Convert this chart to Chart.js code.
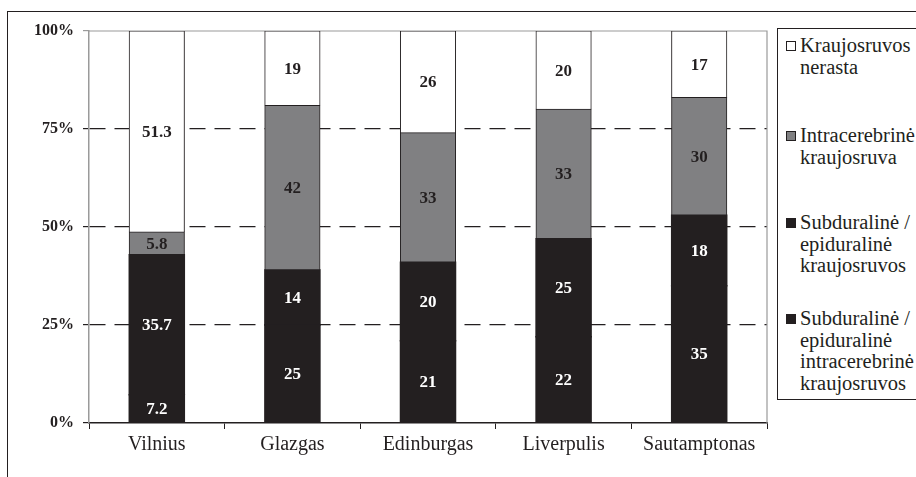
<!DOCTYPE html>
<html>
<head>
<meta charset="utf-8">
<script src="https://cdn.jsdelivr.net/npm/chart.js@4.4.0/dist/chart.umd.min.js"></script>
<style>
  body { margin: 0; background: #fff; overflow: hidden; }
  #wrap { position: relative; width: 916px; height: 477px; overflow: hidden; }
  #frame { position: absolute; left: 7px; top: 11px; width: 920px; height: 480px;
           border-top: 1.5px solid #231f20; border-left: 1.5px solid #231f20; }
  canvas { position: absolute; left: 0; top: 0; }
  #legend { position: absolute; left: 777px; top: 28px; width: 200px; height: 370px;
            border: 1px solid #231f20; background: #fff;
            font: 20.5px "Liberation Serif", "DejaVu Serif", serif; color: #231f20; }
  .item { position: absolute; left: 8px; padding-left: 14px; line-height: 21.5px; white-space: pre-line; }
  .swatch { position: absolute; left: 0; top: 6px; width: 10px; height: 10px;
            box-sizing: border-box; border: 1px solid #231f20; }
</style>
</head>
<body>
<div id="wrap">
  <div id="frame"></div>
  <canvas id="injuryChart" width="916" height="477"></canvas>
  <div id="legend"></div>
</div>
<script>
// cities and shares of each finding, %
var categories = ['Vilnius', 'Glazgas', 'Edinburgas', 'Liverpulis', 'Sautamptonas'];
var bothBleeds = [7.2, 25, 21, 22, 35];
var subEpiBleeds = [35.7, 14, 20, 25, 18];
var intraBleeds = [5.8, 42, 33, 33, 30];
var noBleeds = [51.3, 19, 26, 20, 17];
var seriesNames = [
  'Subduralinė /\nepiduralinė\nintracerebrinė\nkraujosruvos',
  'Subduralinė /\nepiduralinė\nkraujosruvos',
  'Intracerebrinė\nkraujosruva',
  'Kraujosruvos\nnerasta'
];
var yTicks = [0, 25, 50, 75, 100];

var ink = '#231f20';
var axisGray = '#9a9a9a';
var fills = [ink, ink, '#808082', '#ffffff'];
var labelColors = ['#ffffff', '#ffffff', ink, ink];
// black segments get no outline so they merge into one column
var outlines = [0, 0, 1, 1];
var inflates = [0.8, 0.8, 0.6, 0.6];
var serif = '"Liberation Serif", "DejaVu Serif", serif';

// gray top and right edges of the plot
var plotFrame = {
  id: 'plotFrame',
  beforeDatasetsDraw: function(chart) {
    var a = chart.chartArea, c = chart.ctx;
    c.save();
    c.strokeStyle = axisGray;
    c.lineWidth = 1.2;
    c.beginPath();
    c.moveTo(a.left, a.top);
    c.lineTo(a.right, a.top);
    c.lineTo(a.right, a.bottom);
    c.stroke();
    c.restore();
  }
};

// numbers in the middle of each segment
var segmentValues = {
  id: 'segmentValues',
  afterDatasetsDraw: function(chart) {
    var c = chart.ctx;
    c.save();
    c.font = 'bold 17px ' + serif;
    c.textAlign = 'center';
    c.textBaseline = 'middle';
    chart.data.datasets.forEach(function(ds, i) {
      var meta = chart.getDatasetMeta(i);
      c.fillStyle = labelColors[i];
      meta.data.forEach(function(bar, j) {
        c.fillText(String(ds.data[j]), bar.x, (bar.y + bar.base) / 2 + 1);
      });
    });
    c.restore();
  }
};

var seriesData = [bothBleeds, subEpiBleeds, intraBleeds, noBleeds];

var ctx = document.getElementById('injuryChart').getContext('2d');
var injuryChart = new Chart(ctx, {
  type: 'bar',
  data: {
    labels: categories,
    datasets: seriesData.map(function(d, i) {
      return {
        label: seriesNames[i],
        data: d,
        backgroundColor: fills[i],
        borderColor: ink,
        borderWidth: outlines[i],
        inflateAmount: inflates[i],
        barPercentage: 0.405,
        categoryPercentage: 1
      };
    })
  },
  options: {
    responsive: false,
    animation: false,
    layout: { padding: { top: 31, right: 149, bottom: 0, left: 0 } },
    plugins: {
      legend: { display: false },
      tooltip: { enabled: false }
    },
    scales: {
      x: {
        stacked: true,
        afterFit: function(scale) { scale.height = 54; },
        grid: { drawOnChartArea: false, color: ink, tickLength: 6, offset: true },
        border: { color: ink, width: 1.5 },
        ticks: { color: ink, padding: 4, font: { family: serif, size: 20 } }
      },
      y: {
        stacked: true,
        min: 0,
        max: 100,
        afterFit: function(scale) { scale.width = 89; },
        afterBuildTicks: function(scale) {
          scale.ticks = yTicks.map(function(v) { return { value: v }; });
        },
        grid: {
          color: function(c) {
            var v = c.tick ? c.tick.value : 0;
            return (v === 0 || v === 100) ? 'rgba(0,0,0,0)' : ink;
          },
          tickColor: function(c) {
            return c.tick && c.tick.value === 100 ? axisGray : ink;
          },
          lineWidth: 1.2,
          tickLength: 6
        },
        border: { color: axisGray, width: 1.5, dash: [16, 9] },
        ticks: {
          color: ink,
          padding: 9,
          font: { family: serif, size: 16, weight: 'bold' },
          callback: function(v) { return v + '%'; }
        }
      }
    }
  },
  plugins: [plotFrame, segmentValues]
});

// legend on the right, top series first; offsets inside the box
var legendTops = [6, 96, 183, 279];
var legend = document.getElementById('legend');
for (var k = seriesNames.length - 1; k >= 0; k--) {
  var item = document.createElement('div');
  item.className = 'item';
  item.style.top = legendTops[seriesNames.length - 1 - k] + 'px';
  var sw = document.createElement('span');
  sw.className = 'swatch';
  sw.style.background = fills[k];
  item.appendChild(sw);
  item.appendChild(document.createTextNode(seriesNames[k]));
  legend.appendChild(item);
}
</script>
</body>
</html>
